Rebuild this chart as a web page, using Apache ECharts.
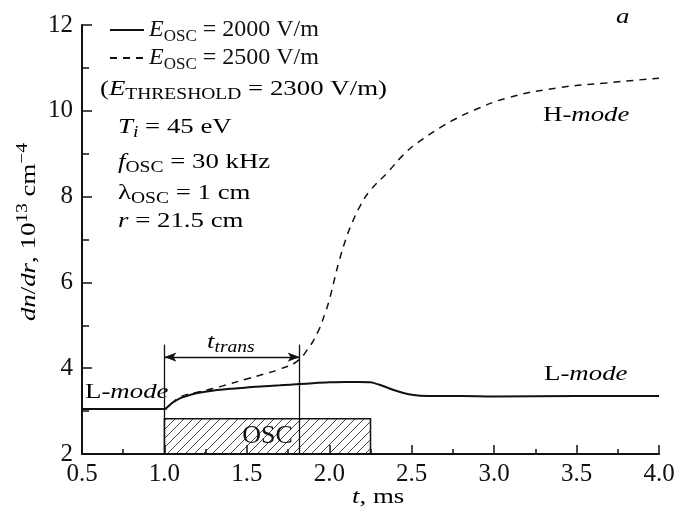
<!DOCTYPE html>
<html>
<head>
<meta charset="utf-8">
<script src="https://cdn.jsdelivr.net/npm/echarts@6/dist/echarts.min.js"></script>
<style>
  html, body { margin: 0; padding: 0; background: #fff; }
  #chart-container { width: 680px; height: 514px; }
</style>
</head>
<body>
<div id="chart-container"></div>
<script>
// 數據：時間 (ms) 與 dn/dr (10^13 cm^-4)
const tSolid = [0.5, 1.0, 1.02, 1.05, 1.1, 1.15, 1.2, 1.3, 1.4, 1.5, 1.6, 1.7, 1.82, 1.9, 2.0, 2.1, 2.18, 2.25, 2.3, 2.35, 2.4, 2.45, 2.5, 2.55, 2.65, 2.8, 3.0, 3.5, 4.0];
const nSolid = [3.05, 3.05, 3.1, 3.2, 3.31, 3.37, 3.42, 3.48, 3.52, 3.55, 3.58, 3.6, 3.63, 3.65, 3.67, 3.68, 3.68, 3.67, 3.62, 3.55, 3.48, 3.42, 3.38, 3.36, 3.35, 3.35, 3.34, 3.35, 3.35];

const tDashed = [0.5, 1.0, 1.05, 1.1, 1.2, 1.3, 1.4, 1.5, 1.6, 1.7, 1.8, 1.865, 1.93, 1.975, 2.0, 2.03, 2.06, 2.1, 2.14, 2.19, 2.25, 2.35, 2.47, 2.57, 2.67, 2.77, 2.87, 3.08, 3.38, 3.68, 4.0];
const nDashed = [3.05, 3.05, 3.2, 3.34, 3.44, 3.53, 3.64, 3.75, 3.86, 3.98, 4.15, 4.42, 4.84, 5.29, 5.59, 6.05, 6.5, 7.0, 7.4, 7.8, 8.15, 8.55, 9.05, 9.35, 9.6, 9.82, 10.0, 10.3, 10.53, 10.65, 10.76];

// OSC 作用區間與 t_trans
const oscWindow = [1.0, 2.25];
const oscLevel = 2.82;
const transWindow = [1.0, 1.82];
const transLevel = 4.26;
const markerTop = 4.55;

const FONT = 'Liberation Serif';
const INK = '#111';

// 斜線填充圖樣
const hatch = document.createElement('canvas');
hatch.width = 9;
hatch.height = 9;
const hctx = hatch.getContext('2d');
hctx.strokeStyle = '#333';
hctx.lineWidth = 0.9;
hctx.beginPath();
hctx.moveTo(-4.5, 4.5); hctx.lineTo(4.5, -4.5);
hctx.moveTo(0, 9); hctx.lineTo(9, 0);
hctx.moveTo(4.5, 13.5); hctx.lineTo(13.5, 4.5);
hctx.stroke();

const toPairs = (xs, ys) => xs.map((x, i) => [x, ys[i]]);

// 文字樣式 (size: 主字號, sub: 下標字號)
const makeRich = (size, sub, lh) => ({
    n: { fontFamily: FONT, fontSize: size, color: INK, lineHeight: lh },
    i: { fontFamily: FONT, fontSize: size, color: INK, fontStyle: 'italic', lineHeight: lh },
    s: { fontFamily: FONT, fontSize: sub, color: INK, verticalAlign: 'bottom', lineHeight: sub + 1 },
    si: { fontFamily: FONT, fontSize: sub, color: INK, fontStyle: 'italic', verticalAlign: 'bottom', lineHeight: sub + 1 },
    up: { fontFamily: FONT, fontSize: sub, color: INK, verticalAlign: 'top', lineHeight: sub + 1 }
});
const rich = makeRich(22, 16, 28);
const richLegend = makeRich(24, 17, 30);

// 橫向略寬的標註文字
const label = (text, x, y, extra) => Object.assign({
    type: 'text', x: x, y: y, scaleX: 1.22,
    style: { text: text, rich: rich, align: 'left', verticalAlign: 'middle' }
}, extra || {});

const chart = echarts.init(document.getElementById('chart-container'));

const option = {
    animation: false,
    backgroundColor: '#fff',
    grid: { left: 82, right: 21, top: 25, bottom: 60, containLabel: false },
    legend: {
        orient: 'vertical',
        left: 104,
        top: 13,
        itemWidth: 34,
        itemHeight: 2,
        itemGap: 1,
        selectedMode: false,
        itemStyle: { color: 'rgba(0,0,0,0)', borderColor: 'rgba(0,0,0,0)', borderWidth: 0 },
        data: ['E2000', 'E2500'],
        formatter: name => name === 'E2000'
            ? '{i|E}{s|OSC}{n| = 2000 V/m}'
            : '{i|E}{s|OSC}{n| = 2500 V/m}',
        textStyle: { fontFamily: FONT, fontSize: 24, color: INK, rich: richLegend }
    },
    xAxis: {
        type: 'value',
        min: 0.5,
        max: 4.0,
        interval: 0.5,
        axisLine: { lineStyle: { color: INK, width: 2 } },
        axisTick: { inside: true, length: 9, lineStyle: { color: INK, width: 1.5 } },
        minorTick: { show: true, splitNumber: 2, length: 5, lineStyle: { color: INK, width: 1.5 } },
        splitLine: { show: false },
        axisLabel: {
            formatter: v => v.toFixed(1),
            fontFamily: FONT, fontSize: 25, color: INK, margin: 8
        }
    },
    yAxis: {
        type: 'value',
        min: 2,
        max: 12,
        interval: 2,
        axisLine: { show: true, lineStyle: { color: INK, width: 2 } },
        axisTick: { show: true, inside: true, length: 10, lineStyle: { color: INK, width: 1.5 } },
        minorTick: { show: true, splitNumber: 2, length: 7, lineStyle: { color: INK, width: 1.5 } },
        splitLine: { show: false },
        axisLabel: { fontFamily: FONT, fontSize: 25, color: INK, margin: 9 }
    },
    series: [
        {
            name: 'E2000',
            type: 'line',
            symbol: 'none',
            smooth: 0.3,
            color: INK,
            lineStyle: { color: INK, width: 2 },
            data: toPairs(tSolid, nSolid),
            z: 5,
            markArea: {
                silent: true,
                itemStyle: {
                    color: { image: hatch, repeat: 'repeat' },
                    borderColor: INK,
                    borderWidth: 1.5
                },
                label: {
                    show: true,
                    position: 'inside',
                    fontFamily: FONT, fontSize: 26, color: INK,
                    formatter: 'OSC'
                },
                data: [[{ coord: [oscWindow[0], 2] }, { coord: [oscWindow[1], oscLevel] }]]
            },
            markLine: {
                silent: true,
                symbol: ['none', 'none'],
                lineStyle: { color: INK, width: 1.3, type: 'solid' },
                label: { show: false },
                data: [
                    [{ coord: [transWindow[0], 2] }, { coord: [transWindow[0], markerTop] }],
                    [{ coord: [transWindow[1], 2] }, { coord: [transWindow[1], markerTop] }],
                    [
                        { coord: [transWindow[0], transLevel], symbol: 'arrow', symbolSize: [7, 12] },
                        { coord: [transWindow[1], transLevel], symbol: 'arrow', symbolSize: [7, 12] }
                    ]
                ]
            }
        },
        {
            name: 'E2500',
            type: 'line',
            symbol: 'none',
            smooth: 0.5,
            color: INK,
            lineStyle: { color: INK, width: 1.5, type: [7, 6] },
            data: toPairs(tDashed, nDashed),
            z: 4
        }
    ],
    graphic: [
        label('{n|(}{i|E}{s|THRESHOLD}{n| = 2300 V/m)}', 100, 89),
        label('{i|T}{si|i}{n| = 45 eV}', 118, 127),
        label('{i|f}{s|OSC}{n| = 30 kHz}', 118, 162),
        label('{n|λ}{s|OSC}{n| = 1 cm}', 118, 193),
        label('{i|r}{n| = 21.5 cm}', 118, 221),
        label('{i|a}', 616, 17),
        label('{n|H-}{i|mode}', 543, 115),
        label('{n|L-}{i|mode}', 544, 374),
        label('{n|L-}{i|mode}', 85, 392),
        label('{i|t}{si|trans}', 207, 342),
        label('{i|t}{n|, ms}', 352, 497),
        label('{i|dn}{n|/}{i|dr}{n|, 10}{up|13}{n| cm}{up|−4}', 29, 232, {
            rotation: Math.PI / 2,
            style: {
                text: '{i|dn}{n|/}{i|dr}{n|, 10}{up|13}{n| cm}{up|−4}',
                rich: rich, align: 'center', verticalAlign: 'middle'
            }
        })
    ]
};

chart.setOption(option);
window.addEventListener('resize', () => chart.resize());
</script>
</body>
</html>
